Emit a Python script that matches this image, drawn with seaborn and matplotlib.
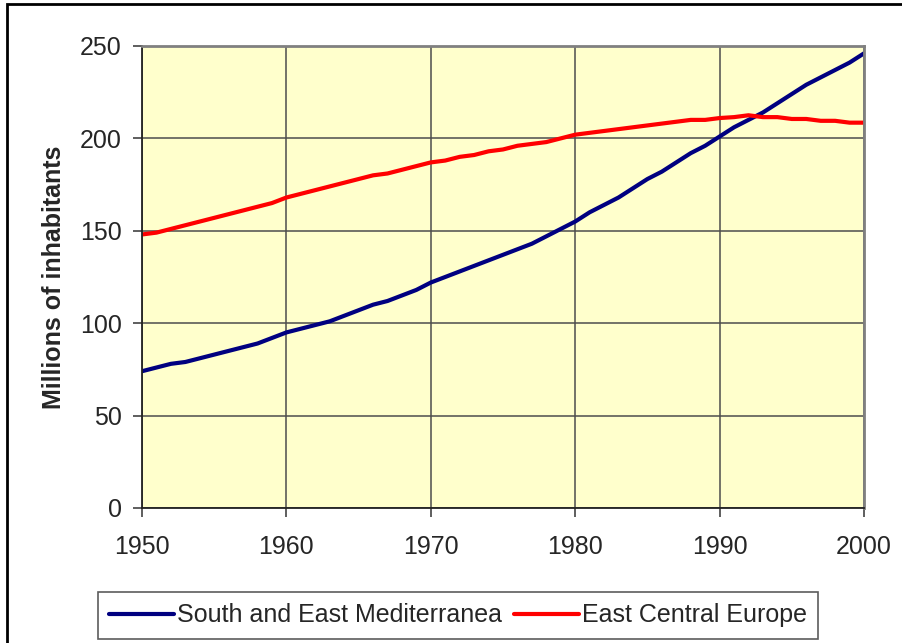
import pandas as pd
import matplotlib.pyplot as plt
import seaborn as sns
from matplotlib.patches import Rectangle

years = list(range(1950, 2001))

# South and East Mediterranea (millions)
sem = [74, 76, 78, 79, 81, 83, 85, 87, 89, 92, 95,
       97, 99, 101, 104, 107, 110, 112, 115, 118, 122,
       125, 128, 131, 134, 137, 140, 143, 147, 151, 155,
       160, 164, 168, 173, 178, 182, 187, 192, 196, 201,
       206, 210, 214, 219, 224, 229, 233, 237, 241, 246]

# East Central Europe (millions)
ece = [148, 149, 151, 153, 155, 157, 159, 161, 163, 165, 168,
       170, 172, 174, 176, 178, 180, 181, 183, 185, 187,
       188, 190, 191, 193, 194, 196, 197, 198, 200, 202,
       203, 204, 205, 206, 207, 208, 209, 210, 210, 211,
       211.5, 212.5, 211.5, 211.5, 210.5, 210.5, 209.5, 209.5, 208.5, 208.5]

series_names = ["South and East Mediterranea", "East Central Europe"]
colors = ["#000080", "#FF0000"]

df = pd.DataFrame({
    "Year": years * 2,
    "Population": sem + ece,
    "Region": [series_names[0]] * len(years) + [series_names[1]] * len(years),
})

sns.set_style("white")
plt.rcParams['font.family'] = ['Liberation Sans', 'DejaVu Sans']

fig = plt.figure(figsize=(9.03, 6.43), dpi=100)
ax = fig.add_axes([0.1573, 0.21, 0.7995, 0.7185])
ax.set_facecolor("#FFFFCC")

sns.lineplot(data=df, x="Year", y="Population", hue="Region",
             palette=dict(zip(series_names, colors)), linewidth=3.0, ax=ax)

ax.set_xlim(1950, 2000)
ax.set_ylim(0, 250)
ax.set_xticks(range(1950, 2001, 10))
ax.set_yticks(range(0, 251, 50))
ax.grid(True, color="#4d4d4d", linewidth=1.1)
ax.set_axisbelow(True)
ax.tick_params(axis="both", labelsize=18, length=6.5, width=1.1, color="#333333",
               direction="out", bottom=True, left=True)
ax.tick_params(axis="x", pad=13)
ax.tick_params(axis="y", pad=8)
ax.set_xlabel("")
ax.set_ylabel("Millions of inhabitants", fontsize=18, fontweight="bold", labelpad=10)

for side in ["left", "bottom"]:
    ax.spines[side].set_color("#222222")
    ax.spines[side].set_linewidth(1.3)
for side in ["top", "right"]:
    ax.spines[side].set_color("#808080")
    ax.spines[side].set_linewidth(2)

leg = ax.legend(loc="upper center", bbox_to_anchor=(458 / 903, 1 - 592 / 643),
                bbox_transform=fig.transFigure, ncol=2,
                frameon=True, fancybox=False, fontsize=18, handlelength=2.6,
                handletextpad=0.1, columnspacing=0.5, borderpad=0.45,
                borderaxespad=0)
leg.get_frame().set_edgecolor("#333333")
leg.get_frame().set_linewidth(1.2)

# outer chart frame
fig.patches.append(Rectangle((7 / 903, -0.1), 1.2, 0.1 + (643 - 4) / 643,
                             transform=fig.transFigure, fill=False,
                             edgecolor="black", linewidth=2))

fig.savefig("out.png", dpi=100)
